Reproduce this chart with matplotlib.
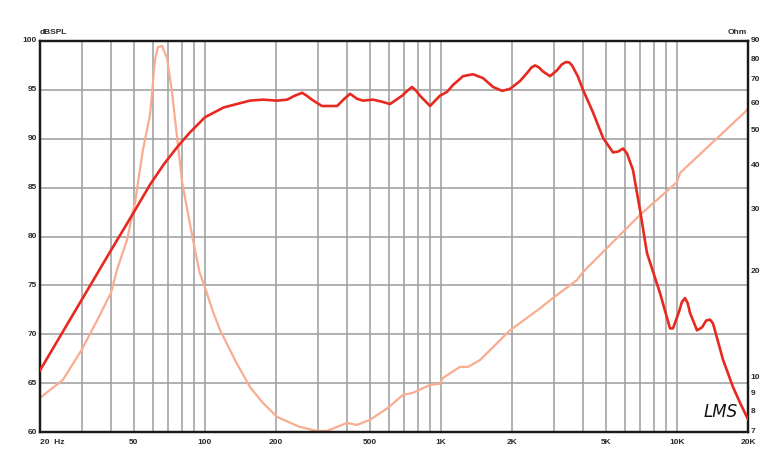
import numpy as np
import matplotlib
matplotlib.use('Agg')
import matplotlib.pyplot as plt
from matplotlib.transforms import blended_transform_factory

plt.rcParams['font.family'] = ['Liberation Sans', 'DejaVu Sans']

# 频响 (SPL) 曲线
spl_freq = [20, 30, 40, 50, 58.5, 67, 76, 86, 100, 120, 155, 176, 202, 223, 240, 258,
            270, 284, 313, 363, 390, 412, 440, 467, 515, 560, 608, 684, 720, 754,
            785, 815, 899, 990, 1061, 1125, 1240, 1367, 1508, 1662, 1815, 1961,
            2162, 2330, 2420, 2504, 2600, 2700, 2898, 3102, 3250, 3387, 3500,
            3592, 3800, 3999, 4408, 4861, 5358, 5650, 5908, 6141, 6512, 6974,
            7466, 8478, 9344, 9620, 10200, 10500, 10816, 11100, 11352, 12162,
            12766, 13300, 13806, 14217, 15672, 17276, 18497, 20000]
spl_db = [66.3, 73.5, 78.6, 82.5, 85.3, 87.4, 89.1, 90.6, 92.2, 93.2, 93.9, 94.0,
          93.9, 94.0, 94.4, 94.7, 94.4, 94.0, 93.35, 93.35, 94.1, 94.6, 94.1,
          93.9, 94.0, 93.8, 93.55, 94.4, 94.9, 95.3, 94.9, 94.4, 93.35, 94.4,
          94.8, 95.5, 96.4, 96.6, 96.2, 95.3, 94.9, 95.1, 95.9, 96.8, 97.3,
          97.5, 97.3, 96.9, 96.4, 97.0, 97.6, 97.85, 97.8, 97.5, 96.4, 95.0,
          92.7, 90.1, 88.6, 88.7, 89.0, 88.5, 86.8, 82.7, 78.3, 74.2, 70.6,
          70.6, 72.3, 73.3, 73.7, 73.2, 72.2, 70.4, 70.7, 71.4, 71.5, 71.1,
          67.4, 64.6, 63.0, 61.3]

# 阻抗曲线
imp_freq = [20, 25, 30, 35, 40, 42.4, 46.7, 50.5, 52, 54.6, 58.5, 61.4, 63.2,
            65.8, 69.0, 72.5, 76, 80, 89, 95, 100, 108, 116, 135, 155, 175, 202,
            250, 298, 329, 400, 441, 500, 597, 690, 761, 898, 990, 1020, 1204,
            1302, 1464, 1961, 2628, 2984, 3772, 3999, 6974, 10000, 10300,
            19800, 20000]
imp_ohm = [8.75, 9.84, 11.96, 14.55, 17.4, 20.2, 24.5, 31.2, 35.6, 44.2, 55.5,
           79.5, 86.5, 87.1, 80.6, 64.5, 48.7, 35.8, 24.5, 19.8, 18.0, 15.4,
           13.6, 11.1, 9.4, 8.5, 7.73, 7.25, 7.05, 7.05, 7.43, 7.33, 7.58, 8.2,
           8.92, 9.04, 9.52, 9.59, 9.97, 10.71, 10.71, 11.2, 13.6, 15.7, 16.8,
           18.9, 19.9, 28.9, 35.8, 38.0, 57.3, 58.0]

x_ticks = [20, 50, 100, 200, 500, 1000, 2000, 5000, 10000, 20000]
x_labels = ['20  Hz', '50', '100', '200', '500', '1K', '2K', '5K', '10K', '20K']
grid_freqs = [30, 40, 50, 60, 70, 80, 90,
              100, 200, 300, 400, 500, 600, 700, 800, 900,
              1000, 2000, 3000, 4000, 5000, 6000, 7000, 8000, 9000, 10000]
db_ticks = [60, 65, 70, 75, 80, 85, 90, 95, 100]
ohm_ticks = [7, 8, 9, 10, 20, 30, 40, 50, 60, 70, 80, 90]

RED = '#e8291f'
SALMON = '#f9ad90'
GRID = '#9c9c9c'
TXT = dict(fontsize=6, fontweight='bold', color='#2a2a2a')

fig = plt.figure(figsize=(7.83, 4.70), dpi=100)
ax = fig.add_axes([40 / 783, 38 / 470, 708 / 783, 391 / 470])
ax2 = ax.twinx()

# 阻抗轴放在底层，SPL 轴在上层
ax.set_zorder(ax2.get_zorder() + 1)
ax.patch.set_visible(False)

ax.set_xscale('log')
ax.set_xlim(20, 20000)
ax.set_ylim(60, 100)
ax2.set_yscale('log')
ax2.set_ylim(7, 90)

# 网格（画在底层轴上）
for f in grid_freqs:
    ax2.axvline(f, color=GRID, linewidth=1.1, zorder=0.5)
trans = blended_transform_factory(ax2.transAxes, ax.transData)
for v in db_ticks[1:-1]:
    ax2.plot([0, 1], [v, v], transform=trans, color=GRID, linewidth=1.1, zorder=0.5)

ax2.plot(imp_freq, imp_ohm, color=SALMON, linewidth=1.6, solid_joinstyle='round', zorder=2)
ax.plot(spl_freq, spl_db, color=RED, linewidth=1.9, solid_joinstyle='round', zorder=3)

for a in (ax, ax2):
    a.tick_params(which='both', length=0)
    for s in a.spines.values():
        s.set_color('#1a1a1a')
        s.set_linewidth(1.6)

ax.set_xticks(x_ticks)
ax.set_xticks([], minor=True)
ax.set_xticklabels([])
ax.set_yticks(db_ticks)
ax.set_yticklabels([])
ax2.set_yticks(ohm_ticks)
ax2.set_yticks([], minor=True)
ax2.set_yticklabels([])

# 刻度文字
xt = blended_transform_factory(ax.transData, ax.transAxes)
for f, lab in zip(x_ticks, x_labels):
    ha = 'left' if f == 20 else 'center'
    ax.text(f, -0.018, lab, transform=xt, ha=ha, va='top', **TXT)
yt = blended_transform_factory(ax.transAxes, ax.transData)
for v in db_ticks:
    ax.text(-0.004, v, str(v), transform=yt, ha='right', va='center', **TXT)
yt2 = blended_transform_factory(ax2.transAxes, ax2.transData)
for v in ohm_ticks:
    ax2.text(1.004, v, str(v), transform=yt2, ha='left', va='center', **TXT)

ax.text(0.0, 1.012, 'dBSPL', transform=ax.transAxes, ha='left', va='bottom', **TXT)
ax.text(0.998, 1.012, 'Ohm', transform=ax.transAxes, ha='right', va='bottom', **TXT)
ax.text(0.962, 0.05, 'LMS', transform=ax.transAxes, ha='center', va='center',
        fontsize=12, fontstyle='italic', family='DejaVu Sans', fontweight='light',
        color='#111111')

fig.savefig('out.png', dpi=100, facecolor='white')
